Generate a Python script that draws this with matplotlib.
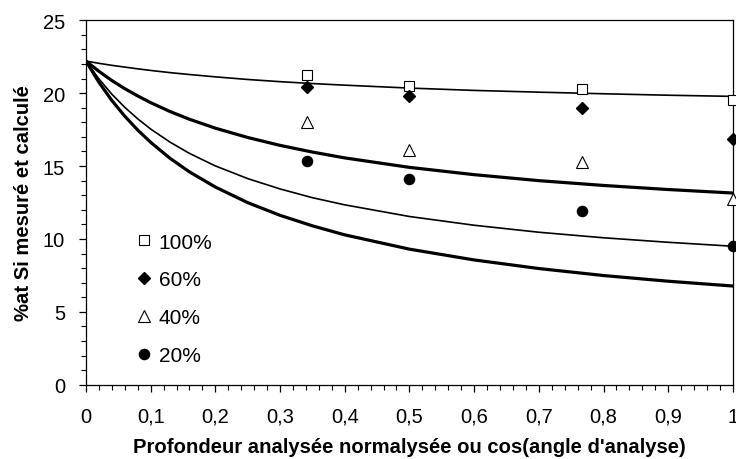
import matplotlib
matplotlib.use("Agg")
from matplotlib import pyplot as plt
from matplotlib.ticker import MultipleLocator, FuncFormatter

plt.rcParams['font.family'] = ['Liberation Sans', 'DejaVu Sans']

# measured points (cos of analysis angle: 70, 60, 40, 0 deg)
x_mes = [0.342, 0.5, 0.766, 1.0]
si_100 = [21.26, 20.5, 20.28, 19.55]
si_60 = [20.44, 19.82, 18.96, 16.85]
si_40 = [18.04, 16.12, 15.3, 12.74]
si_20 = [15.34, 14.09, 11.89, 9.49]

# calculated curves
x_calc = [0, 0.02, 0.04, 0.06, 0.08, 0.1, 0.13, 0.16, 0.2, 0.25,
          0.3, 0.35, 0.4, 0.5, 0.6, 0.7, 0.8, 0.9, 1.0]
calc_100 = [22.2, 22.05, 21.91, 21.79, 21.67, 21.56, 21.41, 21.28, 21.12, 20.94,
            20.79, 20.66, 20.55, 20.35, 20.19, 20.07, 19.96, 19.86, 19.78]
calc_60 = [22.2, 21.5, 20.87, 20.31, 19.81, 19.35, 18.74, 18.21, 17.6, 16.96,
           16.42, 15.96, 15.56, 14.91, 14.41, 14.0, 13.67, 13.39, 13.15]
calc_40 = [22.2, 20.98, 19.93, 19.03, 18.24, 17.54, 16.64, 15.87, 15.01, 14.14,
           13.43, 12.83, 12.34, 11.54, 10.94, 10.46, 10.08, 9.77, 9.5]
calc_20 = [22.2, 20.75, 19.5, 18.42, 17.47, 16.63, 15.53, 14.6, 13.56, 12.49,
           11.62, 10.9, 10.28, 9.3, 8.56, 7.97, 7.49, 7.1, 6.77]

fig = plt.figure(figsize=(7.36, 4.6), dpi=100)
ax = fig.add_axes([0.1168, 0.1615, 0.879, 0.7922])

for ys, lw in [(calc_100, 1.2), (calc_60, 2.3), (calc_40, 1.2), (calc_20, 2.3)]:
    ax.plot(x_calc, ys, color='black', lw=lw, solid_joinstyle='round')

ax.plot(x_mes, si_100, ls='none', marker='s', ms=7.4, mfc='white', mec='black', mew=0.8,
        label='100%', clip_on=False, zorder=3)
ax.plot(x_mes, si_60, ls='none', marker='D', ms=6.6, mfc='black', mec='black',
        label='60%', clip_on=False, zorder=3)
ax.plot(x_mes, si_40, ls='none', marker='^', ms=8.5, mfc='white', mec='black', mew=0.8,
        label='40%', clip_on=False, zorder=3)
ax.plot(x_mes, si_20, ls='none', marker='o', ms=7.3, mfc='black', mec='black',
        label='20%', clip_on=False, zorder=3)

ax.set_xlim(0, 1)
ax.set_ylim(0, 25)
ax.xaxis.set_major_locator(MultipleLocator(0.1))
ax.xaxis.set_minor_locator(MultipleLocator(0.02))
ax.yaxis.set_major_locator(MultipleLocator(5))
ax.yaxis.set_minor_locator(MultipleLocator(1))
ax.xaxis.set_major_formatter(FuncFormatter(lambda v, p: ('%g' % round(v, 2)).replace('.', ',')))
ax.tick_params(which='major', direction='out', length=5, width=0.9, labelsize=14.5)
ax.tick_params(axis='x', which='major', pad=11)
ax.tick_params(axis='y', which='major', pad=10)
ax.tick_params(which='minor', direction='out', length=3.5, width=0.8)
ax.tick_params(axis='y', which='both', right=False)
ax.tick_params(axis='x', which='both', top=False)

for s in ax.spines.values():
    s.set_linewidth(0.9)

ax.set_xlabel("Profondeur analysée normalysée ou cos(angle d'analyse)",
              fontsize=14.6, fontweight='bold', labelpad=8)
ax.set_ylabel('%at Si mesuré et calculé', fontsize=14.6, fontweight='bold', labelpad=7)

ax.legend(loc='upper left', bbox_to_anchor=(0.061, 0.44), frameon=False, fontsize=15,
          handletextpad=0.2, labelspacing=0.9, handlelength=1.0, borderaxespad=0)

fig.savefig('out.png', dpi=100)
